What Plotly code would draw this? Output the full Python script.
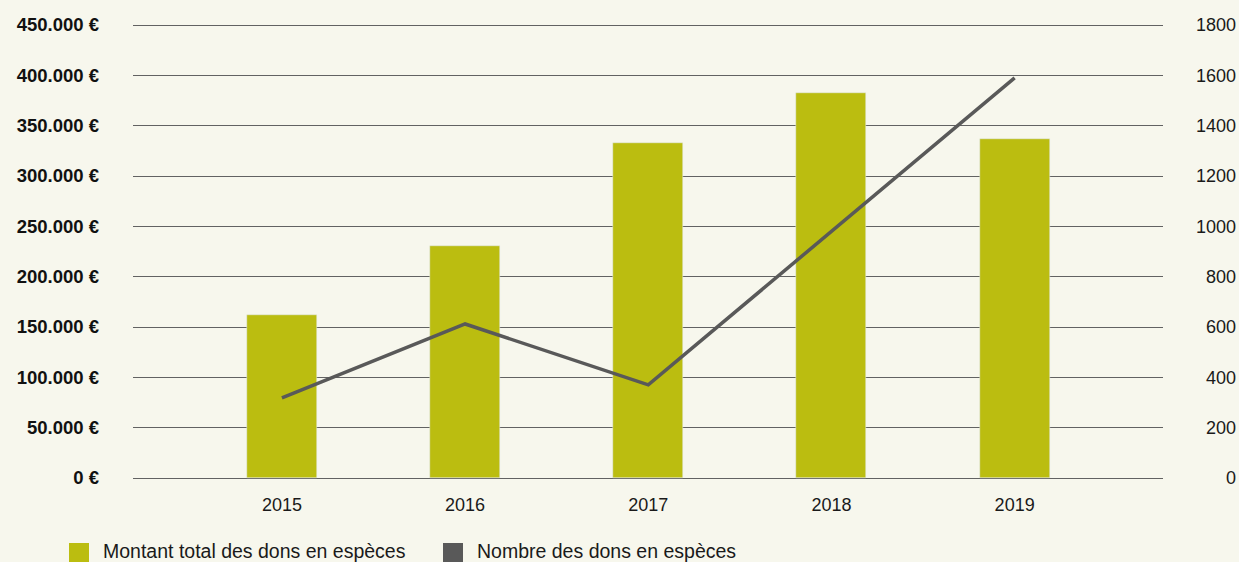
import plotly.graph_objects as go

years = ["2015", "2016", "2017", "2018", "2019"]
montant = [162000, 230500, 333000, 382500, 337000]
nombre = [318, 612, 370, 980, 1590]
series_names = ["Montant total des dons en espèces", "Nombre des dons en espèces"]
left_ticks = [0, 50000, 100000, 150000, 200000, 250000, 300000, 350000, 400000, 450000]
right_ticks = [0, 200, 400, 600, 800, 1000, 1200, 1400, 1600, 1800]

BG = "#f7f7ed"
OLIVE = "#bbbd10"
GREY = "#595959"
FONT = "Liberation Sans, Arial, sans-serif"

fig = go.Figure()
fig.add_trace(go.Bar(x=years, y=montant, name=series_names[0], marker_color=OLIVE,
                     width=0.382, showlegend=False, yaxis="y"))
fig.add_trace(go.Scatter(x=years, y=nombre, name=series_names[1], mode="lines",
                         line=dict(color=GREY, width=3.5), showlegend=False, yaxis="y2"))

left_text = [f"{v:,}".replace(",", ".") + " €" for v in left_ticks]
maxlen = max(len(str(t)) for t in right_ticks)
right_text = ["\u2007" * (maxlen - len(str(t))) + str(t) for t in right_ticks]

# plot area: 2px padding above/below the 0..max span so edge gridlines show
pad_l = 2 / 453 * 450000
pad_r = 2 / 453 * 1800

fig.update_layout(
    width=1239, height=562,
    margin=dict(l=133, r=76, t=23, b=82),
    paper_bgcolor=BG, plot_bgcolor=BG,
    font=dict(family=FONT, size=18, color="#1a1a1a"),
    bargap=0,
    xaxis=dict(type="category", range=[-0.813, 4.81], showgrid=False, zeroline=False,
               showline=False, ticks="", automargin=False, ticklabelstandoff=12,
               tickfont=dict(size=18, color="#1a1a1a")),
    yaxis=dict(range=[-pad_l, 450000 + pad_l], tickvals=left_ticks, ticktext=left_text,
               showgrid=True, gridcolor="#626262", gridwidth=1, zeroline=False,
               showline=False, ticks="", ticklabelstandoff=33, automargin=False,
               tickfont=dict(size=18.5, color="#111111", weight="bold")),
    yaxis2=dict(range=[-pad_r, 1800 + pad_r], tickvals=right_ticks, ticktext=right_text,
                overlaying="y", side="right", showgrid=False, zeroline=False,
                showline=False, ticks="", ticklabelstandoff=32, automargin=False,
                tickfont=dict(size=18, color="#1a1a1a")),
)

# manual legend
legend_items = [(series_names[0], OLIVE, 69), (series_names[1], GREY, 443)]
for name, col, px in legend_items:
    x0 = (px - 133) / 1030
    x1 = (px + 20 - 133) / 1030
    fig.add_shape(type="rect", xref="paper", yref="paper", x0=x0, x1=x1,
                  y0=(480 - 564) / 457, y1=(480 - 543) / 457,
                  fillcolor=col, line=dict(width=0))
    fig.add_annotation(xref="paper", yref="paper", x=(px + 32 - 133) / 1030,
                       y=(480 - 551) / 457, xanchor="left", yanchor="middle",
                       text=name, showarrow=False, font=dict(size=19.5, color="#1a1a1a"))

fig.write_html("out.html", config={"displayModeBar": False},
               post_script="document.body.style.margin='0';")
